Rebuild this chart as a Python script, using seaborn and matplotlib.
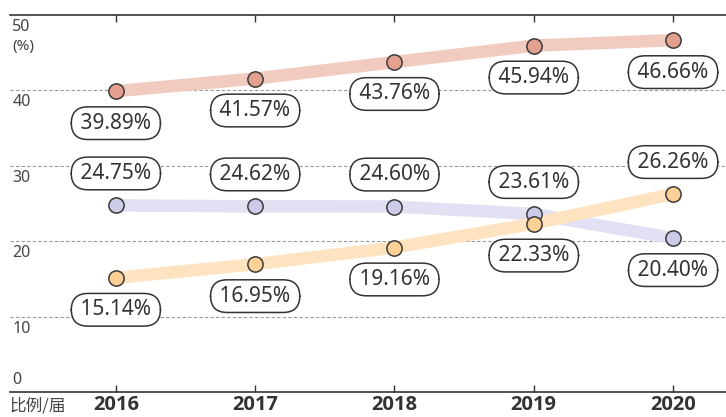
import matplotlib.pyplot as plt
import seaborn as sns
import pandas as pd

years = [2016, 2017, 2018, 2019, 2020]
red_vals = [39.89, 41.57, 43.76, 45.94, 46.66]
purple_vals = [24.75, 24.62, 24.60, 23.61, 20.40]
orange_vals = [15.14, 16.95, 19.16, 22.33, 26.26]
series_names = ['red', 'purple', 'orange']
# label above (+1) or below (-1) the point
red_pos = [-1, -1, -1, -1, -1]
purple_pos = [1, 1, 1, 1, -1]
orange_pos = [-1, -1, -1, -1, 1]
y_ticks = [0, 10, 20, 30, 40, 50]

line_colors = {'red': '#f2cbc0', 'purple': '#e2e1f3', 'orange': '#fde3bf'}
dot_colors = {'red': '#e3a08f', 'purple': '#cccbe8', 'orange': '#fdd095'}

df = pd.DataFrame({
    'year': years * 3,
    'value': red_vals + purple_vals + orange_vals,
    'series': [s for s in series_names for _ in years],
    'pos': red_pos + purple_pos + orange_pos,
})

sns.set_style('white')
plt.rcParams['font.family'] = ['Noto Sans', 'Noto Sans CJK SC', 'DejaVu Sans']

fig = plt.figure(figsize=(7.26, 4.17), dpi=100)
ax = fig.add_axes([10 / 726, 25 / 417, 716 / 726, 377 / 417])

sns.lineplot(data=df, x='year', y='value', hue='series', palette=line_colors,
             linewidth=9, legend=False, ax=ax, zorder=2)
for s in series_names:
    sub = df[df['series'] == s]
    ax.plot(sub['year'], sub['value'], 'o', ms=11, mfc=dot_colors[s],
            mec='#3a3a3a', mew=1.1, zorder=4)

for _, r in df.iterrows():
    off = 23 if r['pos'] > 0 else -23
    ax.annotate(f"\u2009{r['value']:.2f}%\u2009", (r['year'], r['value']),
                xytext=(0, off), textcoords='offset points',
                ha='center', va='center', fontsize=15, color='#333333', zorder=5,
                bbox=dict(boxstyle='round,pad=0.28,rounding_size=0.8',
                          fc='white', ec='#333333', lw=1.1))

ax.set_xlim(2015.24, 2020.38)
ax.set_ylim(0, 50)
for v in [10, 20, 30, 40]:
    ax.axhline(v, color='#999999', lw=0.8, ls=(0, (3, 2)), zorder=1)

for v in y_ticks:
    yy = 1.6 if v == 0 else v - 1.6
    ax.text(0.003, yy, str(v), transform=ax.get_yaxis_transform(),
            ha='left', va='center', fontsize=11.5, color='#444444')
ax.text(0.003, 45.8, '(%)', transform=ax.get_yaxis_transform(),
        ha='left', va='center', fontsize=11, color='#444444')

ax.set_yticks([])
ax.set_xticks(years)
ax.set_xticklabels([str(y) for y in years], fontsize=14.5, fontweight='bold',
                   color='#333333', family=['Open Sans', 'DejaVu Sans'])
ax.tick_params(axis='x', direction='in', length=5, width=1, color='#333333',
               top=True, bottom=True, pad=2)
ax.set_xlabel('')
ax.set_ylabel('')
for side in ['left', 'right']:
    ax.spines[side].set_visible(False)
for side in ['top', 'bottom']:
    ax.spines[side].set_color('#333333')
    ax.spines[side].set_linewidth(1.2)

fig.text(10 / 726, 1 - 406 / 417, '比例/届', ha='left', va='center', fontsize=12,
         color='#444444', family=['Noto Sans CJK SC', 'DejaVu Sans'])

fig.savefig('out.png', dpi=100)
